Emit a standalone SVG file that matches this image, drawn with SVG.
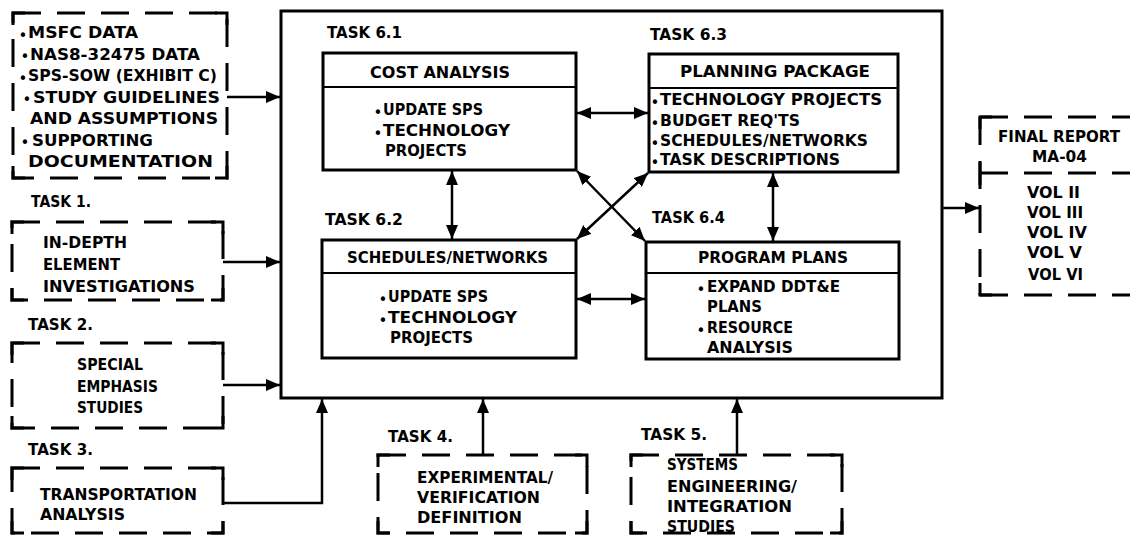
<svg xmlns="http://www.w3.org/2000/svg" width="1130" height="536" viewBox="0 0 1130 536">
<style>
.t{font-family:"DejaVu Sans","Liberation Sans",sans-serif;font-weight:bold;font-size:15px;fill:#000}
.tl{font-size:16px}
.b{font-family:"DejaVu Sans","Liberation Sans",sans-serif;font-size:15px;fill:#000;text-anchor:middle}
.solid{fill:none;stroke:#000;stroke-width:3}
.div{fill:none;stroke:#000;stroke-width:2}
.dash{fill:none;stroke:#000;stroke-width:3;stroke-dasharray:28 16}
.corner{fill:none;stroke:#000;stroke-width:3}
.conn{fill:none;stroke:#000;stroke-width:2.5}
</style>
<defs>
<marker id="ah" markerUnits="userSpaceOnUse" markerWidth="14" markerHeight="12" refX="14" refY="6" orient="auto-start-reverse">
<path d="M0,0 L14,6 L0,12 z" fill="#000"/>
</marker>
</defs>

<g id="inputs">
<rect class="dash" x="13" y="13" width="214" height="165"/>
<path class="corner" d="M13,25 V13 H25 M215,13 H227 V25 M227,166 V178 H215 M25,178 H13 V166"/>
<text class="b" x="23" y="41">•</text><text class="t tl" x="28" y="38" textLength="110" lengthAdjust="spacingAndGlyphs">MSFC DATA</text>
<text class="b" x="25" y="62">•</text><text class="t tl" x="30" y="59.5" textLength="170" lengthAdjust="spacingAndGlyphs">NAS8-32475 DATA</text>
<text class="b" x="23" y="84">•</text><text class="t tl" x="28" y="81" textLength="189" lengthAdjust="spacingAndGlyphs">SPS-SOW (EXHIBIT C)</text>
<text class="b" x="27" y="105">•</text><text class="t tl" x="33" y="102.5" textLength="187" lengthAdjust="spacingAndGlyphs">STUDY GUIDELINES</text>
<text class="t tl" x="30" y="124" textLength="188" lengthAdjust="spacingAndGlyphs">AND ASSUMPTIONS</text>
<text class="b" x="25" y="148">•</text><text class="t tl" x="32" y="145.5" textLength="121" lengthAdjust="spacingAndGlyphs">SUPPORTING</text>
<text class="t tl" x="28" y="167" textLength="185" lengthAdjust="spacingAndGlyphs">DOCUMENTATION</text>
</g>

<g id="task1">
<text class="t" x="31" y="207" textLength="60" lengthAdjust="spacingAndGlyphs">TASK 1.</text>
<rect class="dash" x="12" y="222" width="211" height="78"/>
<path class="corner" d="M12,234 V222 H24 M211,222 H223 V234 M223,288 V300 H211 M24,300 H12 V288"/>
<text class="t" x="43" y="248" textLength="84" lengthAdjust="spacingAndGlyphs">IN-DEPTH</text>
<text class="t" x="43" y="270" textLength="77" lengthAdjust="spacingAndGlyphs">ELEMENT</text>
<text class="t" x="43" y="292" textLength="152" lengthAdjust="spacingAndGlyphs">INVESTIGATIONS</text>
</g>

<g id="task2">
<text class="t" x="28" y="330" textLength="65" lengthAdjust="spacingAndGlyphs">TASK 2.</text>
<rect class="dash" x="12" y="343" width="211" height="85"/>
<path class="corner" d="M12,355 V343 H24 M211,343 H223 V355 M223,416 V428 H211 M24,428 H12 V416"/>
<text class="t" x="77" y="370" textLength="66" lengthAdjust="spacingAndGlyphs">SPECIAL</text>
<text class="t" x="77" y="392" textLength="81" lengthAdjust="spacingAndGlyphs">EMPHASIS</text>
<text class="t" x="77" y="413" textLength="66" lengthAdjust="spacingAndGlyphs">STUDIES</text>
</g>

<g id="task3">
<text class="t" x="28" y="455" textLength="65" lengthAdjust="spacingAndGlyphs">TASK 3.</text>
<rect class="dash" x="12" y="468" width="211" height="65"/>
<path class="corner" d="M12,480 V468 H24 M211,468 H223 V480 M223,521 V533 H211 M24,533 H12 V521"/>
<text class="t" x="40" y="500" textLength="157" lengthAdjust="spacingAndGlyphs">TRANSPORTATION</text>
<text class="t" x="40" y="520" textLength="85" lengthAdjust="spacingAndGlyphs">ANALYSIS</text>
</g>

<g id="task4">
<text class="t" x="388" y="442" textLength="65" lengthAdjust="spacingAndGlyphs">TASK 4.</text>
<rect class="dash" x="378" y="455" width="209" height="78"/>
<path class="corner" d="M378,467 V455 H390 M575,455 H587 V467 M587,521 V533 H575 M390,533 H378 V521"/>
<text class="t" x="417" y="483" textLength="136" lengthAdjust="spacingAndGlyphs">EXPERIMENTAL/</text>
<text class="t" x="417" y="503" textLength="123" lengthAdjust="spacingAndGlyphs">VERIFICATION</text>
<text class="t" x="417" y="523" textLength="105" lengthAdjust="spacingAndGlyphs">DEFINITION</text>
</g>

<g id="task5">
<text class="t" x="641" y="440" textLength="66" lengthAdjust="spacingAndGlyphs">TASK 5.</text>
<rect class="dash" x="631" y="455" width="211" height="78"/>
<path class="corner" d="M631,467 V455 H643 M830,455 H842 V467 M842,521 V533 H830 M643,533 H631 V521"/>
<text class="t" x="667" y="470" textLength="71" lengthAdjust="spacingAndGlyphs">SYSTEMS</text>
<text class="t" x="667" y="492" textLength="130" lengthAdjust="spacingAndGlyphs">ENGINEERING/</text>
<text class="t" x="667" y="512" textLength="125" lengthAdjust="spacingAndGlyphs">INTEGRATION</text>
<text class="t" x="667" y="532" textLength="68" lengthAdjust="spacingAndGlyphs">STUDIES</text>
</g>

<g id="task6">
<rect class="solid" x="281" y="11" width="661" height="387"/>
</g>

<g id="task6-1">
<text class="t" x="327" y="38" textLength="75" lengthAdjust="spacingAndGlyphs">TASK 6.1</text>
<rect class="solid" x="323" y="53" width="253" height="117"/>
<line class="div" x1="323" y1="87" x2="576" y2="87"/>
<text class="t" x="370" y="78" textLength="140" lengthAdjust="spacingAndGlyphs">COST ANALYSIS</text>
<text class="b" x="378" y="118">•</text><text class="t" x="383" y="115" textLength="100" lengthAdjust="spacingAndGlyphs">UPDATE SPS</text>
<text class="b" x="378" y="139">•</text><text class="t" x="383" y="136" textLength="127" lengthAdjust="spacingAndGlyphs">TECHNOLOGY</text>
<text class="t" x="385" y="156" textLength="82" lengthAdjust="spacingAndGlyphs">PROJECTS</text>
</g>

<g id="task6-2">
<text class="t" x="325" y="225" textLength="78" lengthAdjust="spacingAndGlyphs">TASK 6.2</text>
<rect class="solid" x="322" y="240" width="254" height="118"/>
<line class="div" x1="322" y1="273" x2="576" y2="273"/>
<text class="t" x="347" y="263" textLength="201" lengthAdjust="spacingAndGlyphs">SCHEDULES/NETWORKS</text>
<text class="b" x="383" y="305">•</text><text class="t" x="388" y="302" textLength="100" lengthAdjust="spacingAndGlyphs">UPDATE SPS</text>
<text class="b" x="383" y="326">•</text><text class="t" x="388" y="323" textLength="129" lengthAdjust="spacingAndGlyphs">TECHNOLOGY</text>
<text class="t" x="390" y="343" textLength="83" lengthAdjust="spacingAndGlyphs">PROJECTS</text>
</g>

<g id="task6-3">
<text class="t" x="650" y="40" textLength="77" lengthAdjust="spacingAndGlyphs">TASK 6.3</text>
<rect class="solid" x="649" y="54" width="249" height="118"/>
<line class="div" x1="649" y1="88" x2="898" y2="88"/>
<text class="t" x="680" y="77" textLength="190" lengthAdjust="spacingAndGlyphs">PLANNING PACKAGE</text>
<text class="b" x="655" y="108">•</text><text class="t" x="660" y="105" textLength="222" lengthAdjust="spacingAndGlyphs">TECHNOLOGY PROJECTS</text>
<text class="b" x="655" y="129">•</text><text class="t" x="660" y="126" textLength="140" lengthAdjust="spacingAndGlyphs">BUDGET REQ'TS</text>
<text class="b" x="655" y="149">•</text><text class="t" x="660" y="146" textLength="208" lengthAdjust="spacingAndGlyphs">SCHEDULES/NETWORKS</text>
<text class="b" x="655" y="168">•</text><text class="t" x="660" y="165" textLength="180" lengthAdjust="spacingAndGlyphs">TASK DESCRIPTIONS</text>
</g>

<g id="task6-4">
<text class="t" x="652" y="223" textLength="73" lengthAdjust="spacingAndGlyphs">TASK 6.4</text>
<rect class="solid" x="646" y="242" width="253" height="117"/>
<line class="div" x1="646" y1="273" x2="899" y2="273"/>
<text class="t" x="698" y="263" textLength="150" lengthAdjust="spacingAndGlyphs">PROGRAM PLANS</text>
<text class="b" x="701" y="295">•</text><text class="t" x="707" y="292" textLength="133" lengthAdjust="spacingAndGlyphs">EXPAND DDT&amp;E</text>
<text class="t" x="707" y="312" textLength="55" lengthAdjust="spacingAndGlyphs">PLANS</text>
<text class="b" x="701" y="336">•</text><text class="t" x="707" y="333" textLength="86" lengthAdjust="spacingAndGlyphs">RESOURCE</text>
<text class="t" x="707" y="353" textLength="86" lengthAdjust="spacingAndGlyphs">ANALYSIS</text>
</g>

<g id="final-report">
<path class="dash" d="M980,117 H1140"/>
<path class="dash" d="M980,173 H1140"/>
<path class="dash" d="M980,295 H1140"/>
<path class="dash" d="M980,117 V295"/>
<path class="corner" d="M980,129 V117 H992 M980,283 V295 H992 M980,162 V185"/>
<text class="t" x="998" y="142" textLength="122" lengthAdjust="spacingAndGlyphs">FINAL REPORT</text>
<text class="t" x="1032" y="162" textLength="55" lengthAdjust="spacingAndGlyphs">MA-04</text>
<text class="t" x="1027" y="198" textLength="53" lengthAdjust="spacingAndGlyphs">VOL II</text>
<text class="t" x="1027" y="218" textLength="56" lengthAdjust="spacingAndGlyphs">VOL III</text>
<text class="t" x="1027" y="238" textLength="60" lengthAdjust="spacingAndGlyphs">VOL IV</text>
<text class="t" x="1027" y="258" textLength="55" lengthAdjust="spacingAndGlyphs">VOL V</text>
<text class="t" x="1028" y="280" textLength="55" lengthAdjust="spacingAndGlyphs">VOL VI</text>
</g>

<g id="connectors">
<line class="conn" x1="227" y1="97" x2="280" y2="97" marker-end="url(#ah)"/>
<line class="conn" x1="223" y1="262" x2="280" y2="262" marker-end="url(#ah)"/>
<line class="conn" x1="223" y1="385" x2="280" y2="385" marker-end="url(#ah)"/>
<path class="conn" d="M223,503 H322 V399" marker-end="url(#ah)"/>
<line class="conn" x1="483" y1="455" x2="483" y2="399" marker-end="url(#ah)"/>
<line class="conn" x1="737" y1="455" x2="737" y2="399" marker-end="url(#ah)"/>
<line class="conn" x1="942" y1="208" x2="979" y2="208" marker-end="url(#ah)"/>
<line class="conn" x1="452" y1="171" x2="452" y2="239" marker-start="url(#ah)" marker-end="url(#ah)"/>
<line class="conn" x1="773" y1="173" x2="773" y2="241" marker-start="url(#ah)" marker-end="url(#ah)"/>
<line class="conn" x1="577" y1="113" x2="648" y2="113" marker-start="url(#ah)" marker-end="url(#ah)"/>
<line class="conn" x1="577" y1="299" x2="645" y2="299" marker-start="url(#ah)" marker-end="url(#ah)"/>
<line class="conn" x1="577" y1="171" x2="645" y2="241" marker-start="url(#ah)" marker-end="url(#ah)"/>
<line class="conn" x1="577" y1="239" x2="648" y2="173" marker-start="url(#ah)" marker-end="url(#ah)"/>
</g>
</svg>
